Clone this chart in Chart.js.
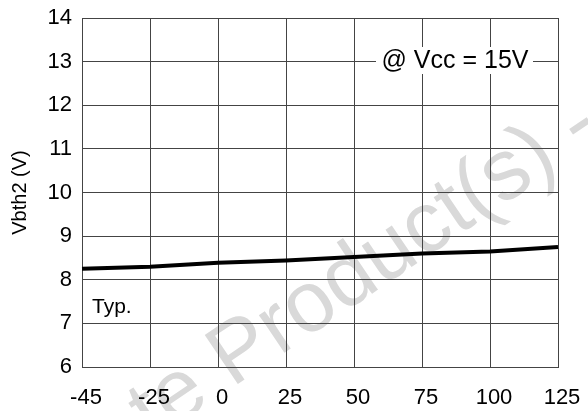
<!DOCTYPE html>
<html>
<head>
<meta charset="utf-8">
<script src="https://cdn.jsdelivr.net/npm/chart.js@4.4.0/dist/chart.umd.min.js"></script>
<style>
  html, body { margin: 0; padding: 0; background: #fff; }
  #wrap { width: 588px; height: 411px; }
</style>
</head>
<body>
<div id="wrap"><canvas id="c" width="588" height="411"></canvas></div>
<script>
// ---- data ----
const temps = ['-45', '-25', '0', '25', '50', '75', '100', '125'];
const vbth2 = [8.25, 8.30, 8.39, 8.44, 8.52, 8.60, 8.65, 8.75];
const yMin = 6;
const yMax = 14;
const yStep = 1;
const yTitle = 'Vbth2 (V)';
const noteText = '@ Vcc = 15V';
const typText = 'Typ.';
const watermarkPre = 'Obsolete ';
const watermarkPost = 'Product(s) - Obsolete Product(s)';

const FONT = '"Liberation Sans", Arial, Helvetica, sans-serif';

const extras = {
  id: 'extras',
  beforeDraw(chart) {
    const ctx = chart.ctx;
    ctx.save();
    ctx.fillStyle = '#fff';
    ctx.fillRect(0, 0, chart.width, chart.height);
    // watermark
    ctx.translate(232, 388);
    ctx.rotate(-34 * Math.PI / 180);
    ctx.font = '86px ' + FONT;
    ctx.fillStyle = '#d9d9d9';
    ctx.textBaseline = 'alphabetic';
    ctx.textAlign = 'right';
    ctx.fillText(watermarkPre, 0, 0);
    ctx.textAlign = 'left';
    ctx.fillText(watermarkPost, 0, 0);
    ctx.restore();
  },
  afterDraw(chart) {
    const ctx = chart.ctx;
    ctx.save();
    // note with white box
    ctx.fillStyle = '#fff';
    ctx.fillRect(376, 47, 157, 27);
    ctx.fillStyle = '#000';
    ctx.font = '25px ' + FONT;
    ctx.textAlign = 'center';
    ctx.textBaseline = 'middle';
    ctx.fillText(noteText, 455, 61);
    // Typ.
    ctx.font = '21px ' + FONT;
    ctx.textAlign = 'left';
    ctx.textBaseline = 'alphabetic';
    ctx.fillText(typText, 92, 313);
    ctx.restore();
  }
};

new Chart(document.getElementById('c'), {
  type: 'line',
  data: {
    labels: temps,
    datasets: [{
      data: vbth2,
      borderColor: '#000',
      borderWidth: 4,
      pointRadius: 0,
      tension: 0,
      fill: false
    }]
  },
  options: {
    responsive: false,
    animation: false,
    layout: { padding: { top: 18, right: 30, left: 0, bottom: 0 } },
    plugins: { legend: { display: false }, tooltip: { enabled: false } },
    scales: {
      x: {
        type: 'category',
        offset: false,
        grid: { color: '#444', lineWidth: 1, drawTicks: false },
        border: { color: '#444', width: 1 },
        ticks: {
          color: '#000',
          font: { family: FONT, size: 22 },
          padding: 18,
          labelOffset: 4,
          maxRotation: 0,
          autoSkip: false
        },
        afterFit(scale) {
          scale.height = 44;
          scale.paddingLeft = 0;
          scale.paddingRight = 0;
        }
      },
      y: {
        min: yMin,
        max: yMax,
        grid: { color: '#444', lineWidth: 1, drawTicks: false },
        border: { color: '#444', width: 1 },
        ticks: {
          stepSize: yStep,
          color: '#000',
          font: { family: FONT, size: 22 },
          padding: 10
        },
        title: {
          display: true,
          text: yTitle,
          color: '#000',
          font: { family: FONT, size: 20 },
          padding: { top: 8, bottom: 0 }
        },
        afterFit(scale) {
          scale.width = 82;
          scale.paddingTop = 0;
          scale.paddingBottom = 0;
        }
      }
    }
  },
  plugins: [extras]
});
</script>
</body>
</html>
